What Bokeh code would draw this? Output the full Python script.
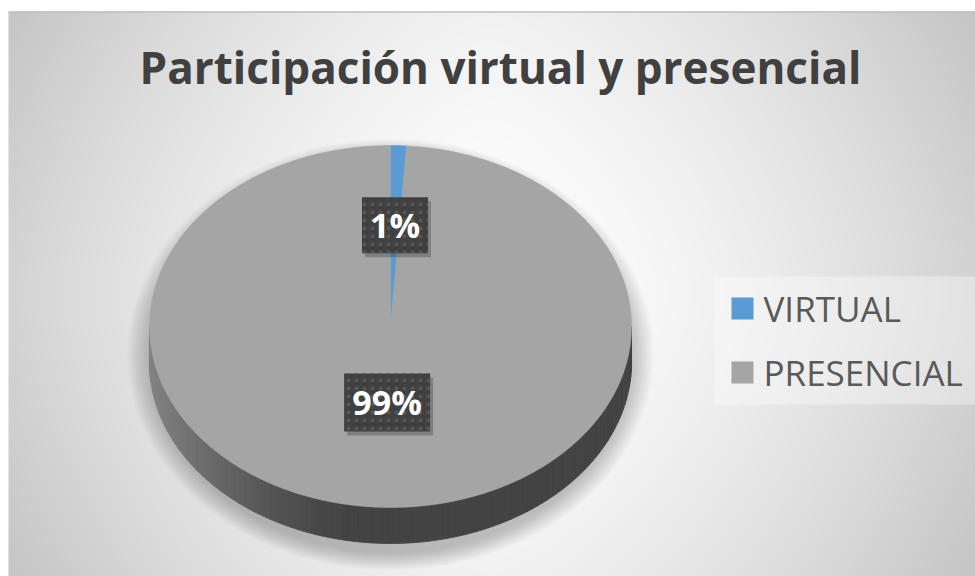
import numpy as np
from bokeh.plotting import figure
from bokeh.models import Range1d, ColumnDataSource
from bokeh.core.properties import value
from bokeh.embed import file_html
from bokeh.resources import INLINE

# ---- data ----
categories = ["VIRTUAL", "PRESENCIAL"]
shares = [1.06, 98.94]
slice_colors = ["#5b9bd5", "#a5a5a5"]
title_text = "Participación virtual y presencial"

# ---- layout / style ----
W, H = 975, 576
p = figure(width=W, height=H, output_backend="svg", toolbar_location=None,
           x_range=Range1d(0, W), y_range=Range1d(H, 0),
           min_border=0, x_axis_location=None, y_axis_location=None)
p.grid.visible = False
p.outline_line_color = None
p.background_fill_color = "white"
p.border_fill_color = "white"

# background radial gradient of the chart area
bx0, by0, bx1, by1 = 8, 11, 975, 576
gw, gh = 484, 283
xs = np.linspace(bx0, bx1, gw)
ys = np.linspace(by0, by1, gh)
GX, GY = np.meshgrid(xs, ys)
ddx = np.abs(GX - 490) / 482.0
ddy = np.abs(GY - 293) / 282.0
vals = np.clip(255 - 44 * ddx ** 1.5 - 14 * ddy ** 1.5, 0, 255).astype(np.uint8)
img = np.zeros((gh, gw), dtype=np.uint32)
view = img.view(dtype=np.uint8).reshape((gh, gw, 4))
view[:, :, 0] = vals
view[:, :, 1] = vals
view[:, :, 2] = vals
view[:, :, 3] = 255
p.image_rgba(image=[img], x=bx0, y=by0, dw=bx1 - bx0, dh=by1 - by0)
p.line(x=[bx0, bx1], y=[by0 + 0.5, by0 + 0.5], line_color="#bfbfbf", line_width=1.5)

# pie geometry
cx, cy, rx, ry, depth = 390.0, 326.0, 241.0, 181.0, 36.0
total = float(sum(shares))
bounds = np.concatenate([[0.0], np.cumsum(shares)]) / total * 2 * np.pi


def pt(phi, dz=0.0):
    return cx + rx * np.sin(phi), cy - ry * np.cos(phi) + dz


# soft shadow
for k in range(12):
    p.ellipse(x=cx, y=cy + depth / 2 + 10, width=2 * rx + 4 * k,
              height=2 * ry + depth + 3 * k, fill_color="black",
              fill_alpha=0.02, line_color=None)


def hex_to_rgb(h):
    return tuple(int(h[i:i + 2], 16) for i in (1, 3, 5))


# side strips (front half only)
for i in range(len(shares)):
    a0, a1 = max(bounds[i], np.pi / 2), min(bounds[i + 1], 3 * np.pi / 2)
    if a1 <= a0:
        continue
    r, g, b = hex_to_rgb(slice_colors[i])
    n = max(2, int((a1 - a0) / np.pi * 120))
    ph = np.linspace(a0, a1, n + 1)
    sxs, sys_, cols = [], [], []
    for j in range(n):
        xa, ya = pt(ph[j])
        xb, yb = pt(ph[j + 1])
        xm = (xa + xb) / 2
        t = (xm - (cx - rx)) / (2 * rx)
        f = 0.41 + 0.38 * max(0.0, 1 - t / 0.42) ** 1.4
        col = "#%02x%02x%02x" % (int(r * f), int(g * f), int(b * f))
        sxs.append([xa, xb, xb, xa])
        sys_.append([ya, yb, yb + depth, ya + depth])
        cols.append(col)
    p.patches(xs=sxs, ys=sys_, fill_color=cols, line_color=cols, line_width=0.8)

# top surfaces
for i in range(len(shares)):
    npts = max(3, int((bounds[i + 1] - bounds[i]) / (2 * np.pi) * 360) + 2)
    ph = np.linspace(bounds[i], bounds[i + 1], npts)
    px_, py_ = pt(ph)
    p.patch(x=[cx] + list(px_), y=[cy] + list(py_), fill_color=slice_colors[i],
            line_color=slice_colors[i], line_width=0.5)

# data labels
label_frac = [0.56, 0.42]
box_w = [66, 86]
box_h = [56, 58]
lx, ly, ltxt = [], [], []
for i in range(len(shares)):
    mid = (bounds[i] + bounds[i + 1]) / 2
    lx.append(cx + label_frac[i] * rx * np.sin(mid))
    ly.append(cy - label_frac[i] * ry * np.cos(mid))
    ltxt.append("%d%%" % round(shares[i] / total * 100))
lsrc = ColumnDataSource(dict(x=lx, y=ly, t=ltxt, w=box_w, h=box_h,
                             xs=[v + 3 for v in lx], ys=[v + 4 for v in ly]))
p.rect(x="xs", y="ys", width="w", height="h", source=lsrc, fill_color="black",
       fill_alpha=0.22, line_color=None)
p.rect(x="x", y="y", width="w", height="h", source=lsrc, fill_color="#404040",
       hatch_pattern="dot", hatch_color="#565656", hatch_scale=8, hatch_weight=1,
       line_color=None)
p.text(x="x", y="y", text="t", source=lsrc, text_align="center", text_baseline="middle",
       text_font=value("Open Sans"), text_font_style="bold", text_font_size="34px",
       text_color="white")

# title
p.text(x=[500], y=[66.5], text=[title_text], text_align="center", text_baseline="middle",
       text_font=value("Open Sans"), text_font_style="bold", text_font_size="44px",
       text_color="#404040")

# legend (drawn by hand for exact placement)
leg_left, leg_top, leg_right, leg_bottom = 714, 276, 975, 404
p.quad(left=[leg_left], right=[leg_right], top=[leg_top], bottom=[leg_bottom],
       fill_color="white", fill_alpha=0.35, line_color=None)
item_y = [308 + 64 * i for i in range(len(categories))]
legsrc = ColumnDataSource(dict(y=item_y, c=slice_colors, t=categories))
p.rect(x=742, y="y", width=22, height=22, source=legsrc, fill_color="c", line_color=None)
p.text(x=763, y="y", text="t", source=legsrc, text_align="left", text_baseline="middle",
       text_font=value("Open Sans"), text_font_size="35px", text_color="#595959")

open("out.html", "w").write(file_html(p, INLINE))
